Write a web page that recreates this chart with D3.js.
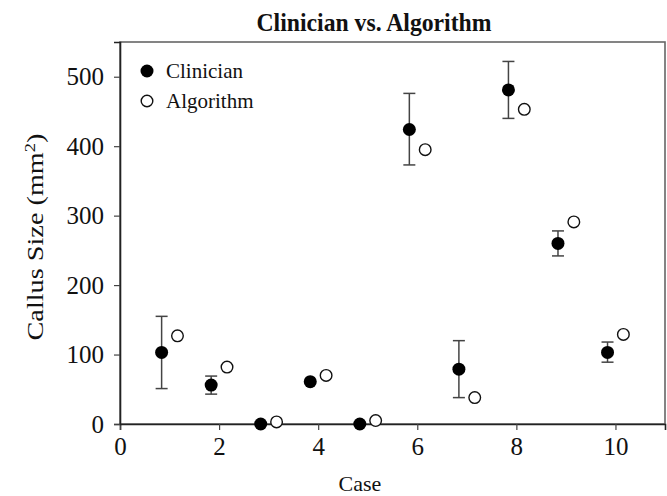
<!DOCTYPE html>
<html>
<head>
<meta charset="utf-8">
<script src="https://cdn.jsdelivr.net/npm/d3@7"></script>
<style>
  body { margin: 0; background: #fff; }
  svg text { font-family: "Liberation Serif", "Times New Roman", serif; fill: #111; }
</style>
</head>
<body>
<script>
var w = 667;
var h = 496;

// data
var cases = [1, 2, 3, 4, 5, 6, 7, 8, 9, 10];
var clinician = [103, 56, 0, 61, 0, 424, 79, 481, 260, 103];
var clinLow = [51, 43, 0, 61, 0, 373, 38, 440, 242, 89];
var clinHigh = [155, 69, 0, 61, 0, 476, 120, 522, 278, 118];
var algorithm = [127, 82, 3, 70, 5, 395, 38, 453, 291, 129];
var xTicks = [0, 2, 4, 6, 8, 10];
var yTicks = [0, 100, 200, 300, 400, 500];

var margin = {top: 42, right: 2, bottom: 72, left: 120};

var svg = d3.select("body")
            .append("svg")
              .attr("width", w)
              .attr("height", h);

var x = d3.scaleLinear().domain([0, 11]).range([margin.left, w - margin.right]);
var y = d3.scaleLinear().domain([0, 550]).range([h - margin.bottom, margin.top]);

//frame
svg.append("rect")
  .attr("x", x(0)).attr("y", y(550))
  .attr("width", x(11) - x(0)).attr("height", y(0) - y(550))
  .attr("fill", "none").attr("stroke", "#666").attr("stroke-width", 1.6);

//axes
var xAxis = svg.append("g")
  .attr("transform", "translate(0," + y(0) + ")")
  .call(d3.axisBottom(x).tickValues(xTicks).tickSize(6).tickPadding(7));
var yAxis = svg.append("g")
  .attr("transform", "translate(" + x(0) + ",0)")
  .call(d3.axisLeft(y).tickValues(yTicks).tickSize(6).tickPadding(10));
[xAxis, yAxis].forEach(function(g) {
  g.select(".domain").attr("stroke", "#222").attr("stroke-width", 1.6);
  g.selectAll(".tick line").attr("stroke", "#444").attr("stroke-width", 1.2);
  g.selectAll(".tick text")
    .style("font-size", "25px").style("fill", "#111");
});

var off = 0.16;
var rows = cases.map(function(c, i) {
  return {c: c, v: clinician[i], lo: clinLow[i], hi: clinHigh[i], a: algorithm[i]};
});

//error bars
var eb = svg.append("g").attr("stroke", "#444").attr("stroke-width", 1.5);
rows.filter(function(d) { return d.hi > d.lo; }).forEach(function(d) {
  var cx = x(d.c - off);
  eb.append("line").attr("x1", cx).attr("x2", cx).attr("y1", y(d.lo)).attr("y2", y(d.hi));
  eb.append("line").attr("x1", cx - 6).attr("x2", cx + 6).attr("y1", y(d.lo)).attr("y2", y(d.lo));
  eb.append("line").attr("x1", cx - 6).attr("x2", cx + 6).attr("y1", y(d.hi)).attr("y2", y(d.hi));
});

//points
svg.selectAll("circle.clin")
  .data(rows).enter().append("circle")
  .attr("class", "clin")
  .attr("cx", function(d) { return x(d.c - off); })
  .attr("cy", function(d) { return y(d.v); })
  .attr("r", 6.5).attr("fill", "#000");

svg.selectAll("circle.alg")
  .data(rows).enter().append("circle")
  .attr("class", "alg")
  .attr("cx", function(d) { return x(d.c + off); })
  .attr("cy", function(d) { return y(d.a); })
  .attr("r", 5.8).attr("fill", "#fff").attr("stroke", "#111").attr("stroke-width", 1.4);

//legend
var leg = svg.append("g");
leg.append("circle").attr("cx", 147).attr("cy", 71).attr("r", 6.5).attr("fill", "#000");
leg.append("text").attr("x", 166).attr("y", 78).style("font-size", "21px").text("Clinician");
leg.append("circle").attr("cx", 147).attr("cy", 101).attr("r", 5.8)
  .attr("fill", "#fff").attr("stroke", "#111").attr("stroke-width", 1.4);
leg.append("text").attr("x", 166).attr("y", 108).style("font-size", "21px").text("Algorithm");

//title and labels
svg.append("text")
  .attr("x", 374).attr("y", 31)
  .attr("text-anchor", "middle")
  .attr("textLength", 235).attr("lengthAdjust", "spacingAndGlyphs")
  .style("font-size", "25px").style("font-weight", "bold")
  .text("Clinician vs. Algorithm");

svg.append("text")
  .attr("x", 360).attr("y", 491)
  .attr("text-anchor", "middle")
  .style("font-size", "22px")
  .text("Case");

var yl = svg.append("text")
  .attr("transform", "translate(43," + 237 + ") rotate(-90)")
  .attr("text-anchor", "middle")
  .attr("textLength", 207).attr("lengthAdjust", "spacingAndGlyphs")
  .style("font-size", "23px");
yl.append("tspan").text("Callus Size (mm");
yl.append("tspan").attr("baseline-shift", "super").style("font-size", "15px").text("2");
yl.append("tspan").text(")");
</script>
</body>
</html>
